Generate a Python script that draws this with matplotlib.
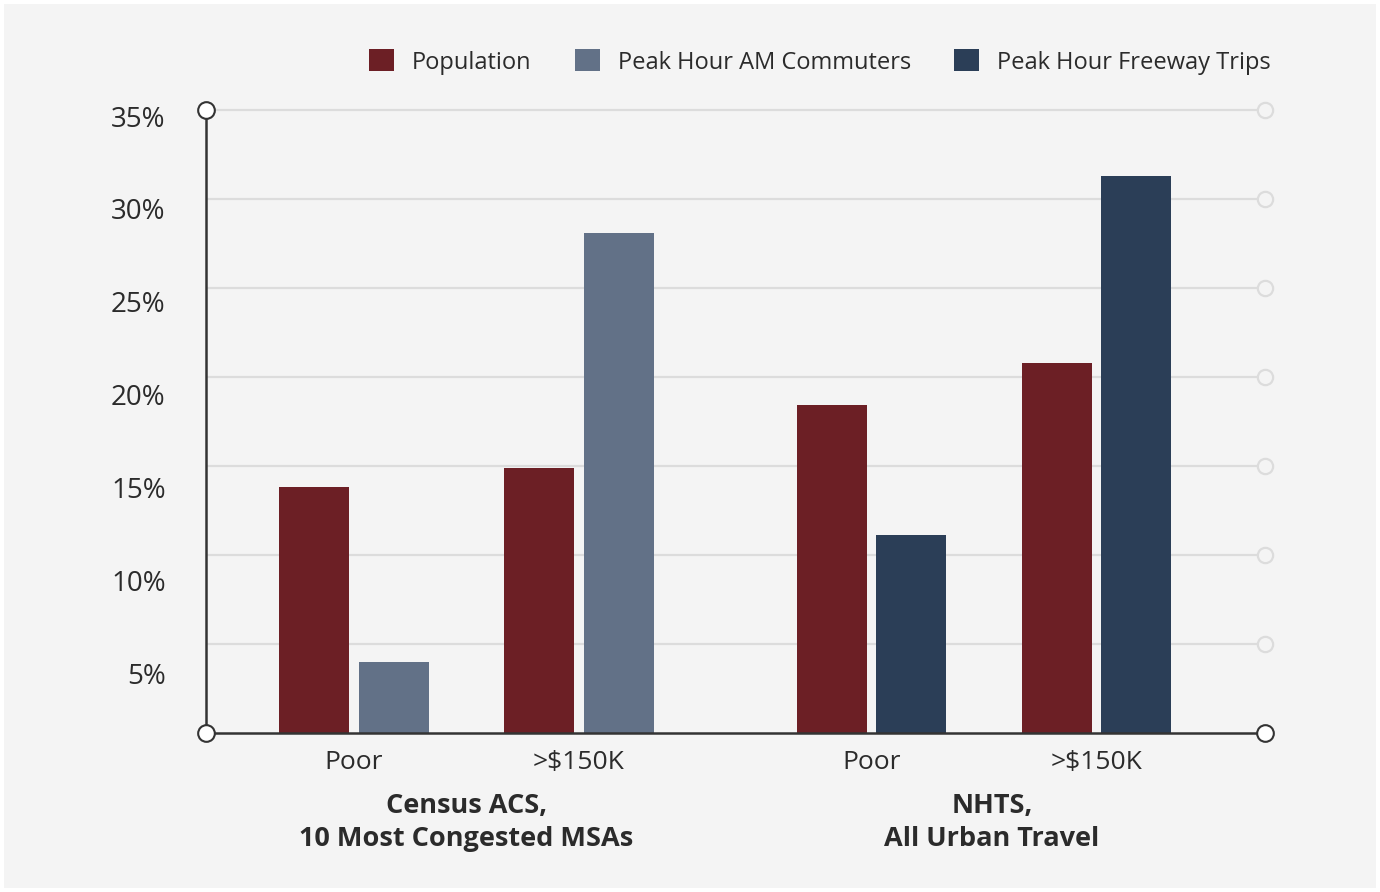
import matplotlib
matplotlib.use("Agg")
import matplotlib.pyplot as plt
from matplotlib.patches import Rectangle
import matplotlib.transforms as mtransforms

plt.rcParams['font.family'] = ['Open Sans', 'DejaVu Sans']

# ---- data ----
groups = ["Census ACS,\n10 Most Congested MSAs", "NHTS,\nAll Urban Travel"]
categories = ["Poor", ">$150K", "Poor", ">$150K"]
population = [13.8, 14.9, 18.4, 20.8]
am_commuters = [4.0, 28.1]          # Census ACS group
freeway_trips = [11.1, 31.3]        # NHTS group
series_names = ["Population", "Peak Hour AM Commuters", "Peak Hour Freeway Trips"]
y_ticks = [5, 10, 15, 20, 25, 30, 35]

# ---- style ----
BG = "#f4f4f4"
C_POP = "#6c1f25"
C_AM = "#627187"
C_FWY = "#2b3e57"
AXIS = "#333333"
GRID = "#dcdcdc"
TEXT = "#2b2b2b"

fig = plt.figure(figsize=(13.8, 8.92), dpi=100, facecolor="white")
fig.patches.append(Rectangle((4 / 1380, 4 / 892), 1372 / 1380, 884 / 892,
                             transform=fig.transFigure, facecolor=BG,
                             edgecolor="none", zorder=-10))

ax = fig.add_axes([206 / 1380, (892 - 733) / 892, (1265 - 206) / 1380, (733 - 110) / 892])
ax.set_facecolor(BG)
ax.patch.set_alpha(0)

x_pos = [0.0, 1.0, 2.3, 3.3]
bw = 0.31
off = 0.177

ax.bar([x - off for x in x_pos], population, width=bw, color=C_POP,
       label=series_names[0], zorder=3)
ax.bar([x + off for x in x_pos[:2]], am_commuters, width=bw, color=C_AM,
       label=series_names[1], zorder=3)
ax.bar([x + off for x in x_pos[2:]], freeway_trips, width=bw, color=C_FWY,
       label=series_names[2], zorder=3)

xmin, xmax = -0.658, 4.049
ax.set_xlim(xmin, xmax)
ax.set_ylim(0, 35)

# gridlines with hollow end markers
for v in y_ticks:
    ax.plot([xmin, xmax], [v, v], color=GRID, lw=1.6, zorder=1,
            solid_capstyle="butt", clip_on=False)
    ax.plot([xmax], [v], marker="o", ms=11, mfc=BG, mec=GRID, mew=1.6,
            clip_on=False, zorder=2)

for s in ["top", "right"]:
    ax.spines[s].set_visible(False)
for s in ["left", "bottom"]:
    ax.spines[s].set_color(AXIS)
    ax.spines[s].set_linewidth(1.8)
    ax.spines[s].set_zorder(4)

# axis end markers
for (mx, my) in [(xmin, 35), (xmin, 0), (xmax, 0)]:
    ax.plot([mx], [my], marker="o", ms=12, mfc="white", mec=AXIS, mew=1.5,
            clip_on=False, zorder=6)

ax.set_yticks([])
ax.set_xticks(x_pos)
ax.set_xticklabels(categories, fontsize=19, color=TEXT)
ax.tick_params(axis="x", length=0, pad=12)

# percentage labels on the left
lab = ax.twinx()
lab.set_position(ax.get_position())
lab.yaxis.tick_left()
lab.set_ylim(1.78, 35.33)
lab.set_yticks(y_ticks)
lab.set_yticklabels([f"{v}%" for v in y_ticks], fontsize=20, color=TEXT)
lab.tick_params(axis="y", length=0, pad=29)
for s in lab.spines.values():
    s.set_visible(False)
lab.patch.set_alpha(0)

# group labels
trans = mtransforms.blended_transform_factory(ax.transData, ax.transAxes)
for gx, g in zip([0.5, 2.835], groups):
    ax.text(gx, -0.143, g, transform=trans, ha="center", va="center",
            fontsize=19.5, fontweight="bold", color=TEXT, linespacing=1.35)

# legend
handles, labels_ = ax.get_legend_handles_labels()
fig.legend(handles, labels_, loc="center", bbox_to_anchor=(820 / 1380, 1 - 62 / 892),
           ncol=3, frameon=False, fontsize=17, labelcolor=TEXT,
           handlelength=1.05, handleheight=1.05, handletextpad=0.75,
           columnspacing=1.85)

fig.savefig("out.png", dpi=100, facecolor="white")
